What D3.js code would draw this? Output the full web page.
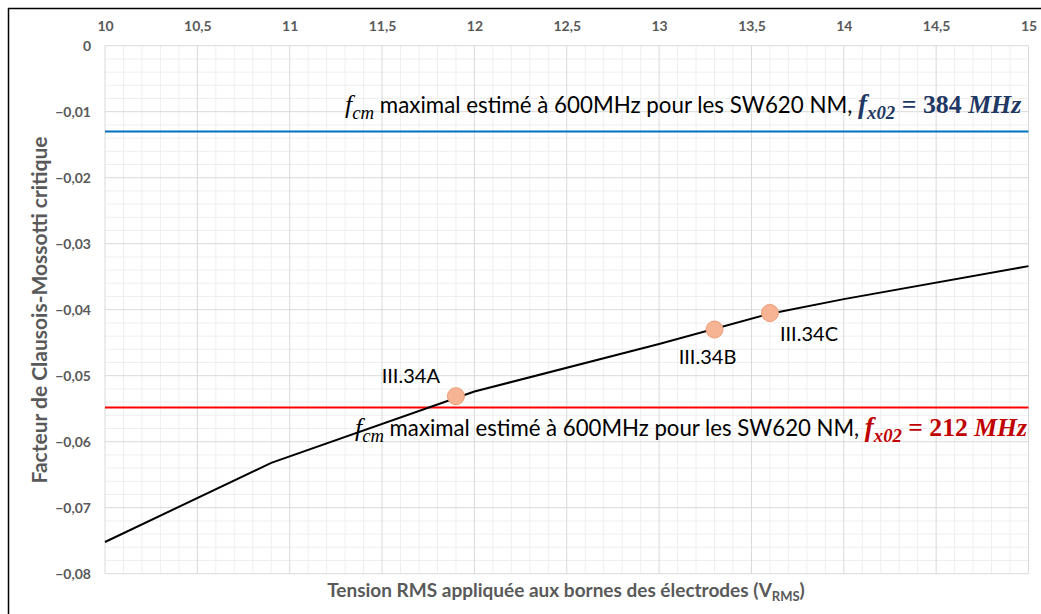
<!DOCTYPE html>
<html>
<head>
<meta charset="utf-8">
<script src="https://cdn.jsdelivr.net/npm/d3@7/dist/d3.min.js"></script>
<style>
  html, body { margin: 0; padding: 0; background: #fff; }
  svg { display: block; }
</style>
</head>
<body>
<svg id="chart" width="1041" height="614"></svg>
<script>
// ---- data ----
const xTickValues = [10, 10.5, 11, 11.5, 12, 12.5, 13, 13.5, 14, 14.5, 15];
const yTickValues = [0, -0.01, -0.02, -0.03, -0.04, -0.05, -0.06, -0.07, -0.08];
const curveX = [10, 10.9, 12, 13, 13.6, 14, 15];
const curveY = [-0.0752, -0.0632, -0.0524, -0.0452, -0.0406, -0.0384, -0.0334];
const pointLabels = ["III.34A", "III.34B", "III.34C"];
const pointX = [11.9, 13.3, 13.6];
const pointY = [-0.0531, -0.0430, -0.0405];
const thresholdY = [-0.0130, -0.0548];
const thresholdFreq = ["384", "212"];
const xTitle = "Tension RMS appliquée aux bornes des électrodes (V";
const xTitleSub = "RMS";
const yTitle = "Facteur de Clausois-Mossotti critique";

(function () {
// ---- layout ----
const svg = d3.select("#chart");
const pLeft = 105, pRight = 1028.5, pTop = 45.7, pBottom = 573.7;
const x = d3.scaleLinear().domain([10, 15]).range([pLeft, pRight]);
const y = d3.scaleLinear().domain([0, -0.08]).range([pTop, pBottom]);
const fmt = v => (v === 0 ? "0" : d3.format(".2f")(v).replace(".", ","));
const fmtX = v => String(v).replace(".", ",");

// chart border (top & left visible)
svg.append("line").attr("x1", 8).attr("x2", 1041).attr("y1", 8.5).attr("y2", 8.5)
  .attr("stroke", "#000").attr("stroke-width", 1.5);
svg.append("line").attr("x1", 8.5).attr("x2", 8.5).attr("y1", 8).attr("y2", 614)
  .attr("stroke", "#000").attr("stroke-width", 1.5);

// minor grid
const g = svg.append("g");
const minorX = d3.range(0, 51).map(i => 10 + i * 0.1).filter(v => Math.abs((v * 2) - Math.round(v * 2)) > 1e-6);
const minorY = d3.range(0, 41).map(i => -i * 0.002).filter(v => Math.abs(v * 100 - Math.round(v * 100)) > 1e-6);
g.selectAll(".mx").data(minorX).enter().append("line")
  .attr("x1", d => x(d)).attr("x2", d => x(d)).attr("y1", pTop).attr("y2", pBottom)
  .attr("stroke", "#efefef").attr("stroke-width", 1);
g.selectAll(".my").data(minorY).enter().append("line")
  .attr("x1", pLeft).attr("x2", pRight).attr("y1", d => y(d)).attr("y2", d => y(d))
  .attr("stroke", "#efefef").attr("stroke-width", 1);
// major grid
g.selectAll(".Mx").data(xTickValues).enter().append("line")
  .attr("x1", d => x(d)).attr("x2", d => x(d)).attr("y1", pTop).attr("y2", pBottom)
  .attr("stroke", "#d9d9d9").attr("stroke-width", 1);
g.selectAll(".My").data(yTickValues).enter().append("line")
  .attr("x1", pLeft).attr("x2", pRight).attr("y1", d => y(d)).attr("y2", d => y(d))
  .attr("stroke", "#d9d9d9").attr("stroke-width", 1);

// axes (labels only)
const xAxis = d3.axisTop(x).tickValues(xTickValues).tickFormat(fmtX).tickSize(0).tickPadding(0);
const xa = svg.append("g").attr("transform", `translate(0,${pTop - 15})`).call(xAxis);
const yAxis = d3.axisLeft(y).tickValues(yTickValues).tickFormat(fmt).tickSize(0).tickPadding(0);
const ya = svg.append("g").attr("transform", `translate(${pLeft - 14},0)`).call(yAxis);
[xa, ya].forEach(a => {
  a.select(".domain").remove();
  a.selectAll("text").attr("fill", "#595959").style("font-family", "Lato, sans-serif")
    .style("font-weight", "700").style("font-size", "14px");
});

// threshold lines
const thrColors = ["#0070C0", "#FF0000"];
thresholdY.forEach((v, i) => {
  svg.append("line").attr("x1", pLeft).attr("x2", pRight).attr("y1", y(v)).attr("y2", y(v))
    .attr("stroke", thrColors[i]).attr("stroke-width", 2);
});

// curve
const pts = curveX.map((d, i) => [d, curveY[i]]);
svg.append("path").datum(pts)
  .attr("d", d3.line().x(d => x(d[0])).y(d => y(d[1])))
  .attr("fill", "none").attr("stroke", "#000").attr("stroke-width", 2);

// points
const pdata = pointX.map((d, i) => ({ x: d, y: pointY[i], label: pointLabels[i] }));
svg.selectAll(".pt").data(pdata).enter().append("circle")
  .attr("cx", d => x(d.x)).attr("cy", d => y(d.y)).attr("r", 8.5)
  .attr("fill", "#F6B494").attr("stroke", "#EE9D76").attr("stroke-width", 1);

// point labels
const lblOff = [{ dx: -16, dy: -13, a: "end" }, { dx: -7, dy: 34, a: "middle" }, { dx: 10, dy: 28, a: "start" }];
svg.selectAll(".pl").data(pdata).enter().append("text")
  .attr("x", (d, i) => x(d.x) + lblOff[i].dx).attr("y", (d, i) => y(d.y) + lblOff[i].dy)
  .attr("text-anchor", (d, i) => lblOff[i].a)
  .style("font-family", "Lato, sans-serif").style("font-size", "20px").attr("fill", "#000")
  .text(d => d.label);

// annotation texts
const annColors = ["#1F3864", "#C00000"];
const annBase = [113, 436];
const annStart = [345, 355];
const annEnd = [1022, 1028];
function buildAnn(i, s) {
  const t = svg.append("text").attr("x", annStart[i]).attr("y", annBase[i]);
  const serif = "'Liberation Serif', 'DejaVu Serif', serif";
  t.append("tspan").text("f").style("font-family", serif).style("font-style", "italic").style("font-size", (22 * s) + "px");
  t.append("tspan").text("cm").attr("dy", 5 * s).style("font-family", serif).style("font-style", "italic").style("font-size", (16 * s) + "px");
  t.append("tspan").text(" maximal estimé à 600MHz pour les SW620 NM, ").attr("dy", -5 * s)
    .style("font-family", "Lato, sans-serif").style("font-size", (19 * s) + "px");
  const c = annColors[i];
  t.append("tspan").text("f").style("font-family", serif).style("font-style", "italic").style("font-weight", "700").style("font-size", (23 * s) + "px").attr("fill", c);
  t.append("tspan").text("x02").attr("dy", 5 * s).style("font-family", serif).style("font-style", "italic").style("font-weight", "700").style("font-size", (16 * s) + "px").attr("fill", c);
  t.append("tspan").text(" = " + thresholdFreq[i] + " ").attr("dy", -5 * s).style("font-family", serif).style("font-weight", "700").style("font-size", (22 * s) + "px").attr("fill", c);
  t.append("tspan").text("MHz").style("font-family", serif).style("font-style", "italic").style("font-weight", "700").style("font-size", (22 * s) + "px").attr("fill", c);
  return t;
}
[0, 1].forEach(i => {
  let t = buildAnn(i, 1);
  const w = t.node().getBBox().width;
  const s = (annEnd[i] - annStart[i]) / w;
  t.remove();
  buildAnn(i, s);
});

// axis titles
const xt = svg.append("text").attr("x", 566).attr("y", 597).attr("text-anchor", "middle")
  .style("font-family", "Lato, sans-serif").style("font-weight", "700").style("font-size", "19px").attr("fill", "#595959");
xt.append("tspan").text(xTitle);
xt.append("tspan").text(xTitleSub).attr("dy", 4).style("font-size", "13px");
xt.append("tspan").text(")").attr("dy", -4);

svg.append("text").attr("transform", `translate(47,310) rotate(-90)`)
  .attr("text-anchor", "middle")
  .style("font-family", "Lato, sans-serif").style("font-weight", "700").style("font-size", "21px").attr("fill", "#595959")
  .text(yTitle);
})();
</script>
</body>
</html>
